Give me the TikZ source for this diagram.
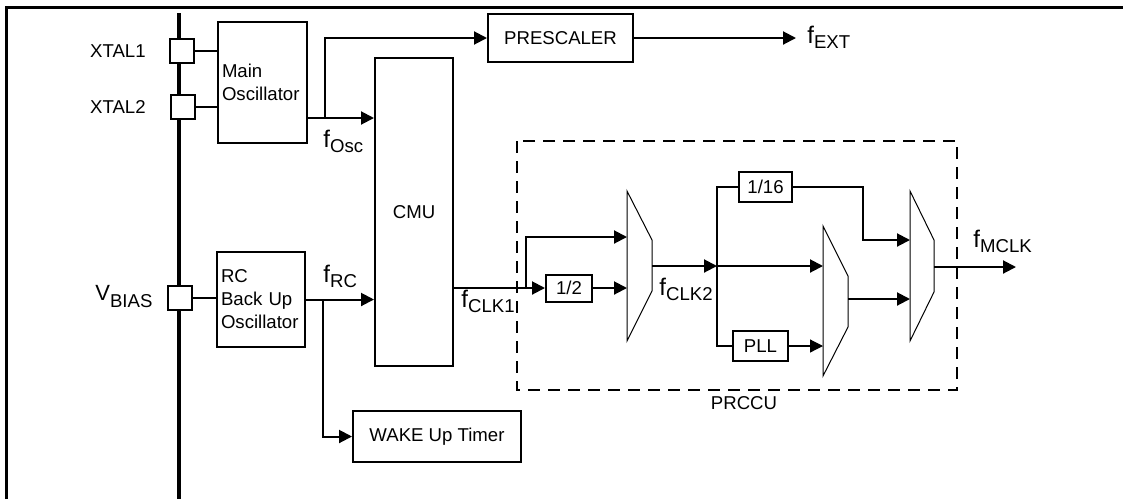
\documentclass[tikz,border=0pt]{standalone}
\usepackage{fontspec}
\setmainfont{Liberation Sans}
\usepackage{tikz}
\usetikzlibrary{arrows.meta,calc}

\newcommand{\freq}[1]{{\fontsize{12}{12}\selectfont f}\raisebox{-2.5pt}{#1}}

\begin{document}
\begin{tikzpicture}[x=0.5pt,y=-0.5pt,
    font=\fontsize{9.3}{11.5}\selectfont,
    blk/.style={draw,line width=1pt,inner sep=2pt},
    pad/.style={draw,fill=white,line width=1pt,minimum size=12pt,inner sep=0pt},
    sig/.style={line width=1pt},
    arr/.style={line width=1pt,-{Triangle[length=6.5pt,width=6.5pt]}},
    mux/.style={line width=0.5pt},
    lbl/.style={inner sep=0pt,anchor=base west}]
    \useasboundingbox (0,0) rectangle (1123,499);

    % Frame and supply bus
    \draw[line width=1.5pt] (6,499) -- (6,7) -- (1123,7);
    \draw[line width=1.6pt] (179,13) -- (179,499);

    % Pads
    \node[pad] (xtalA) at (182,51) {};
    \node[pad] (xtalB) at (183,107) {};
    \node[pad] (vbias) at (180,298) {};
    \node[anchor=east,inner sep=0pt] at (146,51) {XTAL1};
    \node[anchor=east,inner sep=0pt] at (146,107) {XTAL2};
    \node[lbl] at (95,300) {{\fontsize{11}{11}\selectfont V}\raisebox{-3.5pt}{BIAS}};

    % Oscillators
    \node[blk,text width=40.5pt,minimum height=60.5pt,align=left] (mainosc) at (262.5,82.5) {Main\\Oscillator};
    \node[blk,text width=40pt,minimum height=47.5pt,align=left] (rcosc) at (261,299.5) {RC\\Back Up\\Oscillator};
    \draw[sig] (xtalA.east) -- (xtalA -| mainosc.west);
    \draw[sig] (xtalB.east) -- (xtalB -| mainosc.west);
    \draw[sig] (vbias.east) -- (vbias -| rcosc.west);

    % CMU, prescaler, wake up timer
    \node[blk,minimum width=39pt,minimum height=154pt] (cmu) at (414,212) {CMU};
    \node[blk,minimum width=72.5pt,minimum height=24pt] (presc) at (560.5,38) {PRESCALER};
    \node[blk,minimum width=84pt,minimum height=25.5pt] (wake) at (437,436.5) {WAKE Up Timer};

    % f_Osc
    \coordinate (oscout) at (307,118);
    \coordinate (oscsplit) at (325,118);
    \draw[arr] (oscout) -- (oscout -| cmu.west);
    \draw[arr] (oscsplit) |- (presc.west);
    \node[lbl] at (323,147) {\freq{Osc}};
    \node[lbl] (fext) at (807,43) {\freq{EXT}};
    \draw[arr] (presc.east) -- (796,38);

    % f_RC
    \coordinate (rcsplit) at (323,299.5);
    \draw[arr] (rcosc.east) -- (rcosc.east -| cmu.west);
    \draw[arr] (rcsplit) |- (wake.west);
    \node[lbl] at (323,282) {\freq{RC}};

    % PRCCU
    \draw[line width=1.2pt,dash pattern=on 6pt off 4pt] (517,141) rectangle (957,390);
    \node[inner sep=0pt] at (744,403) {PRCCU};
    \node[blk,inner sep=0pt,minimum width=23pt,minimum height=13.5pt] (half) at (569,288) {1/2};
    \node[blk,inner sep=0pt,minimum width=26.5pt,minimum height=15pt] (div16) at (765.5,187) {1/16};
    \node[blk,inner sep=0pt,minimum width=27.5pt,minimum height=15pt] (pll) at (760.5,346) {PLL};

    % Multiplexers
    \draw[mux] (627,191) -- (652,240) -- (652,291) -- (627,341) -- cycle;
    \draw[mux] (823,226) -- (848,276) -- (848,327) -- (823,376) -- cycle;
    \draw[mux] (910,191) -- (934,240) -- (934,292) -- (910,341) -- cycle;
    \coordinate (m1a) at (627,237);
    \coordinate (m1b) at (627,288);
    \coordinate (m1o) at (652,266);
    \coordinate (m2a) at (823,266);
    \coordinate (m2b) at (823,346);
    \coordinate (m2o) at (848,299);
    \coordinate (m3a) at (910,240);
    \coordinate (m3b) at (910,299);
    \coordinate (m3o) at (934,267);

    % f_CLK1
    \coordinate (clkout) at (453,288);
    \coordinate (clksplit) at (526,288);
    \draw[arr] (clkout) -- (half.west);
    \draw[arr] (clksplit) |- (m1a);
    \draw[arr] (half.east) -- (m1b);
    \node[lbl] at (461,307) {\freq{CLK1}};

    % f_CLK2
    \coordinate (junc) at (717,266);
    \coordinate (jtop) at (717,187);
    \coordinate (jbot) at (717,346);
    \draw[arr] (m1o) -- (junc);
    \node[lbl] at (659,295) {\freq{CLK2}};
    \draw[sig] (div16.west) -- (jtop) -- (jbot) -- (pll.west);
    \draw[arr] (junc) -- (m2a);
    \draw[arr,line width=0.6pt] (pll.east) -- (m2b);
    \coordinate (d16turn) at (863,187);
    \draw[arr] (div16.east) -- (d16turn) |- (m3a);
    \draw[arr] (m2o) -- (m3b);

    % f_MCLK
    \coordinate (mclkend) at (1016,267);
    \draw[arr] (m3o) -- (mclkend);
    \node[lbl] at (973,247) {\freq{MCLK}};
\end{tikzpicture}
\end{document}
